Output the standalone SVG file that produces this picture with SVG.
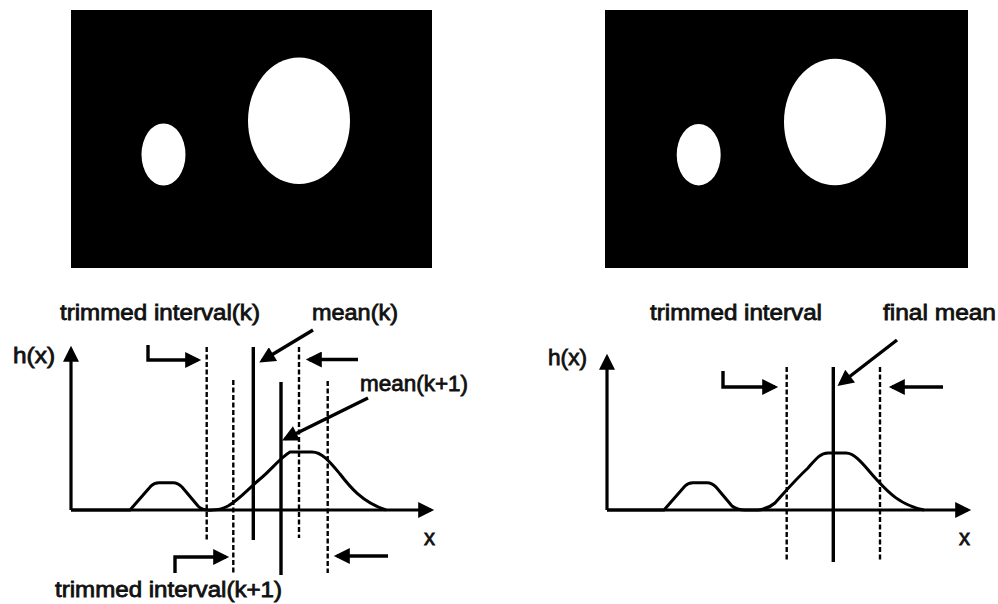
<svg xmlns="http://www.w3.org/2000/svg" width="998" height="604" viewBox="0 0 998 604">
<style>
  .img{fill:#000}
  .blob{fill:#fff}
  .axis{stroke:#000;stroke-width:3.2;fill:none}
  .solid{stroke:#000;stroke-width:3.4;fill:none}
  .dash{stroke:#000;stroke-width:2.4;stroke-dasharray:5 2.5;fill:none}
  .arr{stroke:#000;stroke-width:3.4;fill:none}
  .curve{stroke:#000;stroke-width:3;fill:none;stroke-linejoin:round}
  .lbl{font-family:"Liberation Sans",Arial,sans-serif;font-size:22px;fill:#111;stroke:#111;stroke-width:0.8}
</style>
<defs>
  <marker id="ah" viewBox="0 0 10 10" refX="8" refY="5" markerWidth="19" markerHeight="16" markerUnits="userSpaceOnUse" orient="auto">
    <path d="M0,0 L10,5 L0,10 z" fill="#000"/>
  </marker>
</defs>

<g id="image-left">
  <rect class="img" x="71" y="10" width="361" height="258"/>
  <ellipse class="blob" cx="163.5" cy="154.5" rx="22" ry="31"/>
  <ellipse class="blob" cx="299" cy="120.7" rx="51" ry="63.3"/>
</g>
<g id="image-right">
  <rect class="img" x="605" y="10" width="363" height="258"/>
  <ellipse class="blob" cx="698.7" cy="154.7" rx="22" ry="30.7"/>
  <ellipse class="blob" cx="835" cy="122" rx="51" ry="63.3"/>
</g>

<g id="plot-left">
  <g id="axes-left">
    <line class="axis" x1="71" y1="510" x2="71" y2="349" marker-end="url(#ah)"/>
    <line class="axis" x1="71" y1="510" x2="431" y2="510" marker-end="url(#ah)"/>
  </g>
  <path id="hist-left" class="curve" d="M71,510 L130,510 L151,486 Q154,482.7 159,482.7 L173,482.7 Q178,482.7 182,487 L198,506 Q203,511 212,510 Q220,510 228,506 C240,499 248,489 260,479 C271,470 280,458 290,452 L312,452 C322,452 330,462 340,474 C350,487 362,502 386,510"/>
  <g id="lines-left">
    <line class="dash" x1="206.7" y1="347" x2="206.7" y2="540"/>
    <line class="dash" x1="233.3" y1="380" x2="233.3" y2="573"/>
    <line class="dash" x1="299" y1="347" x2="299" y2="538"/>
    <line class="dash" x1="327.7" y1="381" x2="327.7" y2="573"/>
    <line class="solid" x1="253.3" y1="347" x2="253.3" y2="540"/>
    <line class="solid" x1="281" y1="382" x2="281" y2="575"/>
  </g>
  <g id="connectors-left">
    <path class="arr" d="M148,345 L148,360 L198,360" marker-end="url(#ah)"/>
    <line class="arr" x1="358" y1="359.5" x2="309" y2="359.5" marker-end="url(#ah)"/>
    <line class="arr" x1="313" y1="330" x2="262" y2="360.8" marker-end="url(#ah)"/>
    <line class="arr" x1="368" y1="398" x2="285" y2="439" marker-end="url(#ah)"/>
    <path class="arr" d="M175,573 L175,557 L226,557" marker-end="url(#ah)"/>
    <line class="arr" x1="388" y1="556" x2="337" y2="556" marker-end="url(#ah)"/>
  </g>
  <text class="lbl" x="60" y="320" textLength="200" lengthAdjust="spacingAndGlyphs">trimmed interval(k)</text>
  <text class="lbl" x="312" y="320" textLength="86" lengthAdjust="spacingAndGlyphs">mean(k)</text>
  <text class="lbl" x="13" y="363" textLength="42" lengthAdjust="spacingAndGlyphs">h(x)</text>
  <text class="lbl" x="360" y="391" textLength="108" lengthAdjust="spacingAndGlyphs">mean(k+1)</text>
  <text class="lbl" x="424" y="545">x</text>
  <text class="lbl" x="55" y="597" textLength="227" lengthAdjust="spacingAndGlyphs">trimmed interval(k+1)</text>
</g>

<g id="plot-right">
  <g id="axes-right">
    <line class="axis" x1="607" y1="510" x2="607" y2="357" marker-end="url(#ah)"/>
    <line class="axis" x1="607" y1="510" x2="968" y2="510" marker-end="url(#ah)"/>
  </g>
  <path id="hist-right" class="curve" d="M607,510 L664,510 L685,486 Q688,482.7 693,482.7 L707,482.7 Q712,482.7 716,487 L732,506 Q737,510 745,510 L758,510 Q768,509 775,503 C785,492 795,480 808,468 C815,460 820,453 828,453 L846,453 C856,453 866,468 877,480 C888,492 900,505 924,510"/>
  <g id="lines-right">
    <line class="dash" x1="786.7" y1="367" x2="786.7" y2="560"/>
    <line class="solid" x1="833.3" y1="367" x2="833.3" y2="562"/>
    <line class="dash" x1="880" y1="367" x2="880" y2="560"/>
  </g>
  <g id="connectors-right">
    <path class="arr" d="M723,371 L723,387 L775,387" marker-end="url(#ah)"/>
    <line class="arr" x1="943" y1="387" x2="892" y2="387" marker-end="url(#ah)"/>
    <line class="arr" x1="897" y1="340" x2="840" y2="384" marker-end="url(#ah)"/>
  </g>
  <text class="lbl" x="650" y="320" textLength="172" lengthAdjust="spacingAndGlyphs">trimmed interval</text>
  <text class="lbl" x="883" y="320" textLength="113" lengthAdjust="spacingAndGlyphs">final mean</text>
  <text class="lbl" x="548" y="365" textLength="39" lengthAdjust="spacingAndGlyphs">h(x)</text>
  <text class="lbl" x="959" y="545">x</text>
</g>
</svg>
